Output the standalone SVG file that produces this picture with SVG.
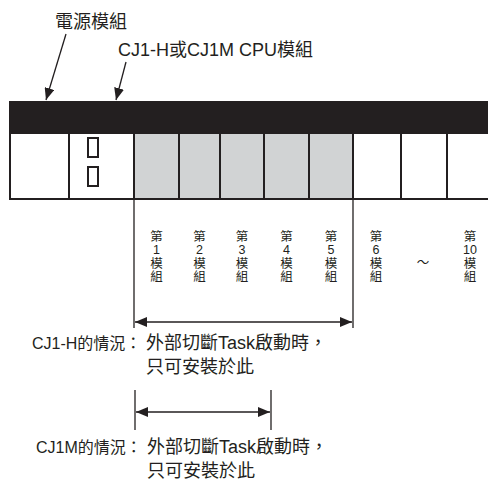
<svg xmlns="http://www.w3.org/2000/svg" width="488" height="481" viewBox="0 0 488 481">
<defs>
<marker id="ah" viewBox="0 0 12 10" refX="12" refY="5" markerWidth="12" markerHeight="10" markerUnits="userSpaceOnUse" orient="auto-start-reverse">
<path d="M0,0 L12,5 L0,10 Z" fill="#231f20"/>
</marker>
</defs>
<style>
text{font-family:"Liberation Sans","Noto Sans CJK TC",sans-serif;fill:#231f20}
.lbl{font-size:18px}
.case{font-size:16px}
.col{font-size:12.5px;text-anchor:middle}
.cell{stroke:#231f20;stroke-width:2}
.thin{stroke:#231f20;stroke-width:1.3;fill:none}
</style>
<g id="power-label">
<text class="lbl" x="55" y="28">電源模組</text>
</g>
<g id="cpu-label">
<text class="lbl" x="118" y="56">CJ1-H或CJ1M CPU模組</text>
</g>
<g id="rack">
<rect x="9" y="101" width="481" height="32" fill="#231f20"/>
<rect x="134" y="133" width="219" height="66" fill="#d1d3d4"/>
<rect x="10" y="133" width="480" height="66" fill="none" class="cell"/>
<g class="cell">
<line x1="69" y1="133" x2="69" y2="199"/>
<line x1="134" y1="133" x2="134" y2="199"/>
<line x1="179" y1="133" x2="179" y2="199"/>
<line x1="220" y1="133" x2="220" y2="199"/>
<line x1="264" y1="133" x2="264" y2="199"/>
<line x1="309" y1="133" x2="309" y2="199"/>
<line x1="353" y1="133" x2="353" y2="199"/>
<line x1="401" y1="133" x2="401" y2="199"/>
<line x1="447" y1="133" x2="447" y2="199"/>
</g>
<rect x="88" y="138" width="10" height="19" fill="#fff" class="cell"/>
<rect x="88" y="167" width="10" height="19" fill="#fff" class="cell"/>
</g>
<g id="slot-labels">
<text class="col" x="156.5" y="241">第</text><text class="col" x="156.5" y="254">1</text><text class="col" x="156.5" y="267.5">模</text><text class="col" x="156.5" y="281">組</text>
<text class="col" x="199.5" y="241">第</text><text class="col" x="199.5" y="254">2</text><text class="col" x="199.5" y="267.5">模</text><text class="col" x="199.5" y="281">組</text>
<text class="col" x="242" y="241">第</text><text class="col" x="242" y="254">3</text><text class="col" x="242" y="267.5">模</text><text class="col" x="242" y="281">組</text>
<text class="col" x="286.5" y="241">第</text><text class="col" x="286.5" y="254">4</text><text class="col" x="286.5" y="267.5">模</text><text class="col" x="286.5" y="281">組</text>
<text class="col" x="331" y="241">第</text><text class="col" x="331" y="254">5</text><text class="col" x="331" y="267.5">模</text><text class="col" x="331" y="281">組</text>
<text class="col" x="376" y="241">第</text><text class="col" x="376" y="254">6</text><text class="col" x="376" y="267.5">模</text><text class="col" x="376" y="281">組</text>
<text class="col" x="423" y="267">～</text>
<text class="col" x="470" y="241">第</text><text class="col" x="470" y="254">10</text><text class="col" x="470" y="267.5">模</text><text class="col" x="470" y="281">組</text>
</g>
<g id="cj1h-note">
<text class="case" x="32" y="349">CJ1-H的情況：</text>
<text class="lbl" x="146" y="349">外部切斷Task啟動時，</text>
<text class="lbl" x="146" y="373">只可安裝於此</text>
</g>
<g id="cj1m-note">
<text class="case" x="36" y="453">CJ1M的情況：</text>
<text class="lbl" x="147" y="453">外部切斷Task啟動時，</text>
<text class="lbl" x="147" y="477">只可安裝於此</text>
</g>
<g id="connectors">
<line class="thin" x1="66" y1="34" x2="46" y2="100" marker-end="url(#ah)"/>
<line class="thin" x1="126" y1="62" x2="116" y2="100" marker-end="url(#ah)"/>
<line class="thin" x1="134" y1="199" x2="134" y2="328"/>
<line class="thin" x1="353" y1="199" x2="353" y2="328"/>
<line class="thin" x1="135" y1="322" x2="352" y2="322" marker-start="url(#ah)" marker-end="url(#ah)"/>
<line class="thin" x1="135" y1="390" x2="135" y2="430"/>
<line class="thin" x1="271" y1="390" x2="271" y2="430"/>
<line class="thin" x1="136" y1="412" x2="270" y2="412" marker-start="url(#ah)" marker-end="url(#ah)"/>
</g>
</svg>
